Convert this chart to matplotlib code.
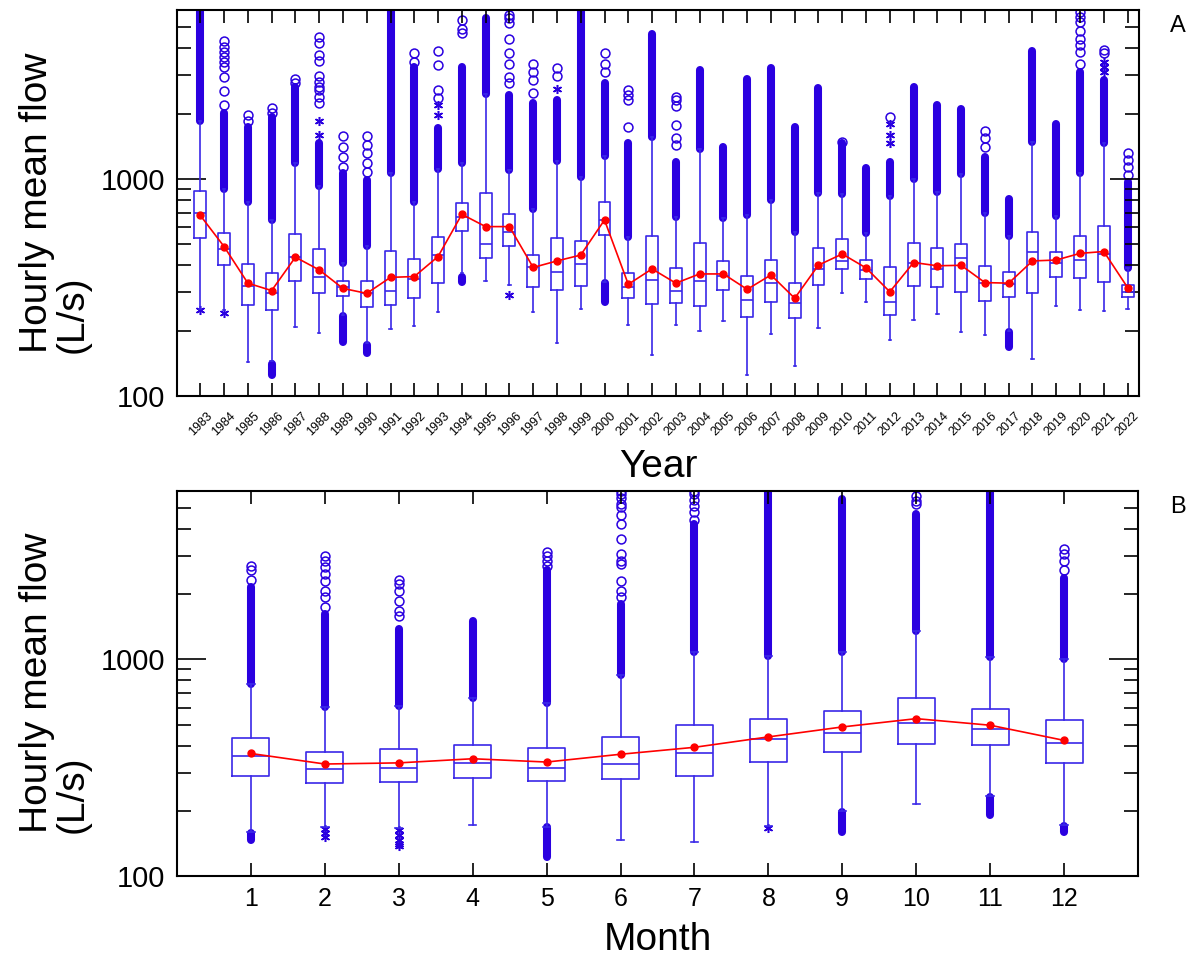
import numpy as np
import matplotlib
matplotlib.use("Agg")
import matplotlib.pyplot as plt
from matplotlib.ticker import FixedLocator, LogLocator, NullFormatter

plt.rcParams['font.family'] = ['Liberation Sans', 'DejaVu Sans']

BLUE = '#2a00e0'
BOXC = '#3a28e8'
RED = '#ff0000'

# ---- panel A : by year ----
years = list(range(1983, 2023))
yr_q1 = [533, 401, 263, 249, 337, 297, 289, 256, 263, 282, 331, 575, 431, 492, 319, 308, 321, 552, 282, 265,
         269, 260, 308, 230, 271, 228, 325, 384, 346, 235, 321, 317, 300, 274, 287, 299, 352, 348, 334, 285]
yr_med = [695, 474, 321, 299, 439, 355, 317, 297, 303, 345, 445, 671, 500, 569, 394, 373, 404, 647, 317, 342,
          306, 340, 357, 277, 331, 269, 384, 419, 381, 270, 409, 384, 434, 333, 328, 459, 409, 423, 450, 300]
yr_q3 = [884, 562, 405, 368, 557, 474, 337, 337, 466, 429, 539, 773, 862, 687, 446, 537, 517, 780, 368, 547,
         390, 505, 420, 357, 423, 331, 483, 530, 422, 392, 508, 479, 500, 398, 374, 568, 463, 548, 607, 325]
yr_mean = [679, 488, 331, 306, 436, 381, 313, 297, 352, 355, 439, 687, 603, 603, 391, 419, 446, 647, 327, 385,
           331, 365, 365, 310, 361, 282, 401, 451, 389, 302, 412, 398, 400, 333, 331, 419, 423, 454, 463, 316]
yr_wlo = [252, 248, 143, 145, 209, 196, 235, 175, 204, 210, 245, 370, 339, 324, 245, 176, 252, 335, 212, 155,
          212, 199, 222, 125, 194, 138, 205, 297, 272, 181, 224, 238, 198, 190, 200, 148, 260, 249, 246, 252]
yr_whi = [1850, 896, 786, 647, 1180, 928, 409, 491, 1070, 786, 1108, 1180, 2456, 1102, 725, 1210, 1025, 1280, 538, 1567,
          666, 1375, 664, 682, 800, 568, 865, 850, 562, 835, 996, 873, 1055, 695, 548, 1486, 678, 1062, 1460, 388]
# top of the dense run of outliers above each upper whisker
yr_top = [6000, 2007, 1742, 1935, 2664, 1460, 1062, 990, 6000, 3294, 1710, 3294, 5500, 2440, 2230, 2312, 6000, 2760, 1460, 4640,
          1200, 3180, 1409, 2880, 3240, 1740, 2610, 1460, 1120, 1200, 2664, 2190, 2090, 1265, 812, 3900, 1800, 3120, 2860, 972]
yr_circ = {1984: [2200, 2530, 2950, 3290, 3470, 3650, 3860, 4070, 4300],
           1985: [1840, 1960], 1986: [2010, 2120], 1987: [2770, 2900],
           1988: [2230, 2380, 2580, 2660, 2800, 2980, 3480, 3730, 4220, 4500],
           1989: [1140, 1260, 1410, 1570], 1990: [1080, 1180, 1310, 1430, 1570],
           1992: [3470, 3820], 1993: [2350, 2580, 3350, 3900], 1994: [4690, 4900, 5400],
           1996: [2760, 2960, 3400, 3790, 4400, 5200, 5500, 5680],
           1997: [2480, 2860, 3120, 3400], 1998: [2980, 3240], 2000: [3120, 3400, 3790],
           2001: [1740, 2310, 2440, 2580], 2003: [1430, 1550, 1770, 2170, 2310, 2380],
           2010: [1475], 2012: [1935], 2016: [1410, 1550, 1660],
           2020: [3400, 3860, 4140, 4430, 4800, 5300, 5560, 5900],
           2021: [3790, 3930], 2022: [1040, 1140, 1220, 1310]}
yr_star = {1988: [1590, 1840], 1993: [1980, 2190], 1998: [2600],
           2012: [1460, 1590, 1790], 2021: [3120, 3290, 3470]}
yr_low_block = {1986: (125, 140), 1989: (178, 233), 1990: (158, 172), 1994: (335, 355),
                2000: (270, 330), 2017: (169, 198)}
yr_low_star = {1983: [249], 1984: [241], 1996: [292]}

# ---- panel B : by month ----
months = list(range(1, 13))
mo_q1 = [289, 269, 272, 285, 276, 280, 291, 335, 374, 409, 401, 331]
mo_med = [357, 312, 316, 331, 317, 329, 370, 431, 459, 511, 479, 410]
mo_q3 = [434, 374, 384, 404, 389, 440, 497, 530, 578, 663, 590, 524]
mo_mean = [368, 329, 333, 348, 336, 365, 393, 439, 488, 533, 497, 423]
mo_wlo = [160, 169, 166, 172, 169, 146, 143, 170, 200, 215, 235, 172]
mo_whi = [773, 603, 612, 666, 631, 850, 1081, 1043, 1081, 1351, 1032, 1007]
mo_top = [2154, 1623, 1380, 1512, 2580, 1800, 4210, 6000, 5500, 4692, 6000, 2380]
mo_circ = {1: [2330, 2580, 2700],
           2: [1742, 1935, 2080, 2312, 2482, 2664, 2859, 3010],
           3: [1590, 1680, 1870, 2080, 2230, 2330],
           5: [2700, 2860, 3010, 3120],
           6: [1935, 2080, 2312, 2760, 2860, 3070, 3610, 4210, 4650, 5035, 5230, 5560, 5800, 6000],
           7: [4430, 4800, 5120, 5460, 5800, 6000],
           10: [5200, 5400, 5700],
           12: [2580, 2860, 3070, 3240]}
mo_star = {}
mo_low_block = {1: (146, 158), 5: (123, 169), 9: (159, 198), 11: (191, 232), 12: (160, 170)}
mo_low_star = {2: [165, 158, 152], 3: [163, 154, 147, 141, 137], 8: [166]}


def panel(ax, cats, q1, med, q3, mean, wlo, whi, top, circ, star, low_block, low_star):
    pos = np.arange(1, len(cats) + 1)
    idx = {c: p for c, p in zip(cats, pos)}
    stats = [dict(med=m, q1=a, q3=b, whislo=l, whishi=h, fliers=[])
             for a, m, b, l, h in zip(q1, med, q3, wlo, whi)]
    lp = dict(color=BOXC, lw=1.2)
    ax.bxp(stats, positions=pos, widths=0.5, showfliers=False, manage_ticks=False,
           capwidths=0.1, boxprops=lp, whiskerprops=lp, capprops=lp, medianprops=lp)
    # dense runs of outliers
    ax.vlines(pos, whi, top, colors=BLUE, lw=5.8, capstyle='round', zorder=1)
    for c, (lo, hi) in low_block.items():
        ax.vlines(idx[c], lo, hi, colors=BLUE, lw=5.8, capstyle='round', zorder=1)
    for c, vals in circ.items():
        ax.plot([idx[c]] * len(vals), vals, 'o', mfc='none', mec=BLUE, ms=6.4, mew=1.1, zorder=1)
    for d in (star, low_star):
        for c, vals in d.items():
            ax.plot([idx[c]] * len(vals), vals, ls='none', marker=(6, 2, 0), color=BLUE,
                    ms=6.5, mew=1.1, zorder=1)
    ax.plot(pos, mean, color=RED, lw=1.2, marker='o', ms=5, zorder=3)

    ax.set_yscale('log')
    ax.set_ylim(100, 6000)
    ax.set_xlim(0.5 - 0.48, len(cats) + 0.48)
    ax.yaxis.set_major_locator(FixedLocator([100, 1000]))
    ax.set_yticklabels(['100', '1000'])
    ax.yaxis.set_minor_locator(LogLocator(base=10, subs=[2, 3, 4, 5, 6, 7, 8, 9]))
    ax.yaxis.set_minor_formatter(NullFormatter())
    ax.tick_params(axis='y', which='major', direction='in', length=21, width=1.2,
                   left=True, right=True, labelsize=21, pad=8.6)
    ax.tick_params(axis='y', which='minor', direction='in', length=10, width=1.2,
                   left=True, right=True)
    ax.tick_params(axis='x', which='major', direction='in', length=9.4, width=1.2,
                   top=True, bottom=True)
    ax.set_xticks(pos)
    for s in ax.spines.values():
        s.set_linewidth(1.5)
    return pos


fig = plt.figure(figsize=(11.94, 9.6), dpi=100)

axA = fig.add_axes([177 / 1194, 1 - 396 / 960, 962 / 1194, 386 / 960])
panel(axA, years, yr_q1, yr_med, yr_q3, yr_mean, yr_wlo, yr_whi, yr_top,
      yr_circ, yr_star, yr_low_block, yr_low_star)
axA.set_xticklabels([str(y) for y in years], rotation=45, fontsize=9, ha='center')
axA.tick_params(axis='x', pad=10)

axB = fig.add_axes([177 / 1194, 1 - 876 / 960, 961 / 1194, 385 / 960])
panel(axB, months, mo_q1, mo_med, mo_q3, mo_mean, mo_wlo, mo_whi, mo_top,
      mo_circ, mo_star, mo_low_block, mo_low_star)
axB.set_xlim(0, 13)
axB.set_xticklabels([str(m) for m in months], fontsize=18)
axB.tick_params(axis='x', pad=8)

ylab = "Hourly mean flow\n(L/s)"
fig.text(55 / 1194, 1 - 203 / 960, ylab, rotation=90, fontsize=28, ha='center', va='center',
         multialignment='left', linespacing=1.0)
fig.text(55 / 1194, 1 - 683 / 960, ylab, rotation=90, fontsize=28, ha='center', va='center',
         multialignment='left', linespacing=1.0)
fig.text(658 / 1194, 1 - 477 / 960, "Year", fontsize=28, ha='center', va='baseline')
fig.text(658 / 1194, 1 - 950 / 960, "Month", fontsize=28, ha='center', va='baseline')
fig.text(1178 / 1194, 1 - 26 / 960, "A", fontsize=17, ha='center', va='center')
fig.text(1178 / 1194, 1 - 507 / 960, "B", fontsize=17, ha='center', va='center')

fig.savefig("out.png", dpi=100)
